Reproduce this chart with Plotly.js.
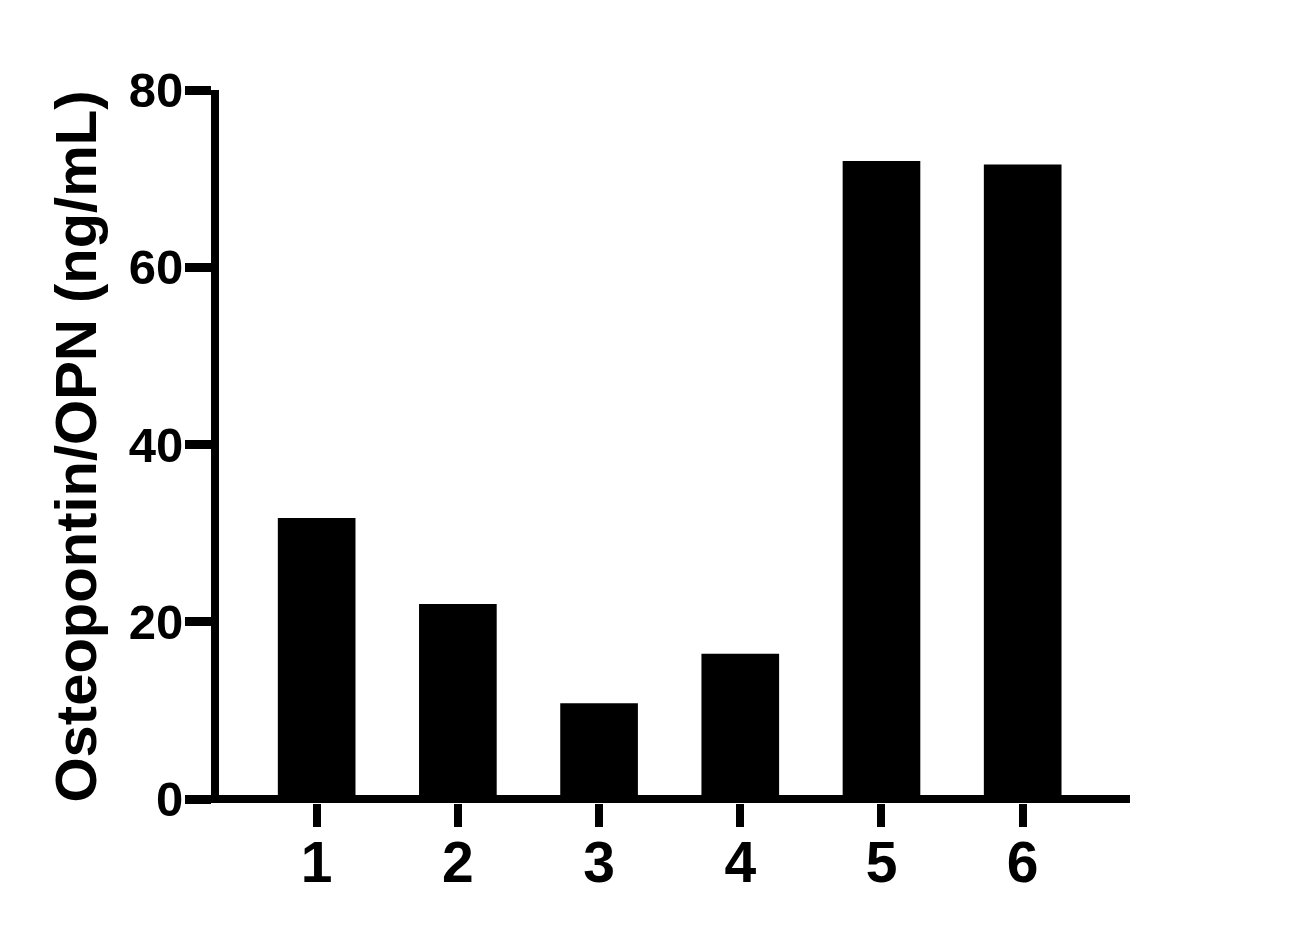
<!DOCTYPE html>
<html>
<head>
<meta charset="utf-8">
<script src="https://cdn.plot.ly/plotly-3.0.1.min.js"></script>
<style>
  html, body { margin: 0; padding: 0; background: #fff; }
</style>
</head>
<body>
<div id="chart" style="width:1307px;height:939px"></div>
<script>
    var samples = ['1', '2', '3', '4', '5', '6'];
    var opnValues = [31.7, 22.0, 10.8, 16.4, 72.0, 71.6];
    var yTicks = [0, 20, 40, 60, 80];

    var font = "'Liberation Sans', Arial, sans-serif";

    var data = [{
        x: samples,
        y: opnValues,
        type: 'bar',
        width: 0.55,
        marker: {color: '#000000', line: {width: 0}},
        hoverinfo: 'x+y'
    }];

    // baseline is the y zeroline so it sits centred on 0 like the original
    var layout = {
        width: 1307,
        height: 939,
        margin: {l: 190, r: 177, t: 90, b: 136},
        paper_bgcolor: '#ffffff',
        plot_bgcolor: '#ffffff',
        showlegend: false,
        font: {family: font, color: '#000000'},
        xaxis: {
            type: 'category',
            range: [-0.897, 5.76],
            showline: false,
            showgrid: false,
            zeroline: false,
            ticks: 'outside',
            ticklen: 23,
            tickwidth: 8,
            tickcolor: '#000000',
            ticklabelstandoff: -13,
            tickfont: {family: font, size: 57, weight: 'bold', color: '#000000'},
            fixedrange: true
        },
        yaxis: {
            range: [-0.45, 80],
            tickvals: yTicks,
            anchor: 'free',
            position: 0.0266,
            showline: true,
            linewidth: 8,
            linecolor: '#000000',
            showgrid: false,
            zeroline: true,
            zerolinewidth: 8,
            zerolinecolor: '#000000',
            ticks: 'outside',
            ticklen: 26,
            tickwidth: 9,
            tickcolor: '#000000',
            ticklabelstandoff: -8,
            tickfont: {family: font, size: 49, weight: 'bold', color: '#000000'},
            title: {
                text: 'Osteopontin/OPN (ng/mL)',
                font: {family: font, size: 58, weight: 'bold', color: '#000000'},
                standoff: 12
            },
            fixedrange: true
        }
    };

    Plotly.newPlot('chart', data, layout, {displayModeBar: false, responsive: false});
</script>
</body>
</html>
